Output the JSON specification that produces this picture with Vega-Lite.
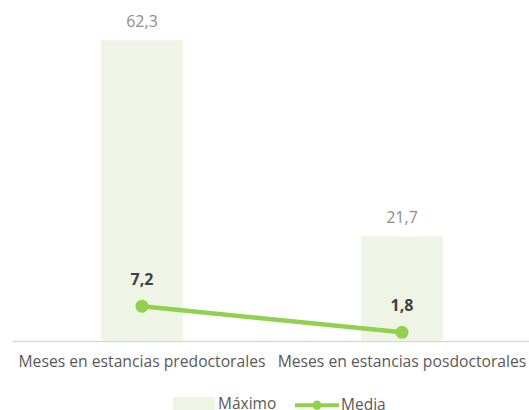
{
  "$schema": "https://vega.github.io/schema/vega-lite/v6.json",
  "width": 520,
  "height": 338,
  "autosize": "none",
  "padding": {"left": 12, "top": 3, "right": 0, "bottom": 69},
  "background": "white",
  "config": {
    "view": {"stroke": null},
    "font": "Open Sans",
    "locale": {"number": {"decimal": ",", "thousands": ".", "grouping": [3], "currency": ["", " €"]}}
  },
  "data": {
    "values": [
      {"cat": "Meses en estancias predoctorales", "max": 62.3, "media": 7.2},
      {"cat": "Meses en estancias posdoctorales", "max": 21.7, "media": 1.8}
    ]
  },
  "encoding": {
    "x": {
      "field": "cat", "type": "nominal", "sort": null,
      "scale": {"paddingInner": 0.685, "paddingOuter": 0.3425},
      "axis": {"title": null, "labelAngle": 0, "ticks": false, "domainColor": "#d9d9d9", "domainWidth": 1.5, "labelFontSize": 15.7, "labelColor": "#595959", "labelPadding": 13, "labelFont": "Open Sans", "labelLimit": 0, "labelOverlap": false}
    }
  },
  "layer": [
    {
      "mark": {"type": "bar"},
      "encoding": {
        "y": {"field": "max", "type": "quantitative", "scale": {"domain": [0, 70], "nice": false}, "axis": null},
        "color": {
          "datum": "Máximo",
          "scale": {"domain": ["Máximo", "Media"], "range": ["#eef5e6", "#92d050"]},
          "legend": {
            "title": null, "orient": "none", "direction": "horizontal",
            "legendX": 160, "legendY": 379,
            "labelFontSize": 15.5, "labelColor": "#595959", "labelFont": "Open Sans",
            "symbolSize": 1600, "columnPadding": 10, "labelOffset": 2,
            "encode": {
              "symbols": {
                "update": {
                  "shape": {"signal": "datum.label == 'Máximo' ? 'M-0.95,-0.25H0.95V0.25H-0.95Z' : 'M-1.1,0H1.1M-0.13,0a0.13,0.13 0 1,0 0.26,0a0.13,0.13 0 1,0 -0.26,0'"},
                  "fill": {"signal": "datum.label == 'Máximo' ? '#eef5e6' : '#92d050'"},
                  "stroke": {"signal": "datum.label == 'Máximo' ? 'transparent' : '#92d050'"},
                  "strokeWidth": {"value": 4},
                  "opacity": {"value": 1}
                }
              }
            }
          }
        }
      }
    },
    {
      "mark": {"type": "text", "baseline": "alphabetic", "dy": -13, "fontSize": 16, "color": "#8c8c8c"},
      "encoding": {
        "y": {"field": "max", "type": "quantitative"},
        "text": {"field": "max", "type": "quantitative", "format": ".1f"}
      }
    },
    {
      "mark": {"type": "line", "strokeWidth": 4.5, "point": {"filled": true, "size": 170, "color": "#92d050"}},
      "encoding": {
        "y": {"field": "media", "type": "quantitative"},
        "color": {"datum": "Media"}
      }
    },
    {
      "mark": {"type": "text", "baseline": "alphabetic", "dy": -21, "fontSize": 16, "fontWeight": "bold", "color": "#404040"},
      "encoding": {
        "y": {"field": "media", "type": "quantitative"},
        "text": {"field": "media", "type": "quantitative", "format": ".1f"}
      }
    }
  ]
}
